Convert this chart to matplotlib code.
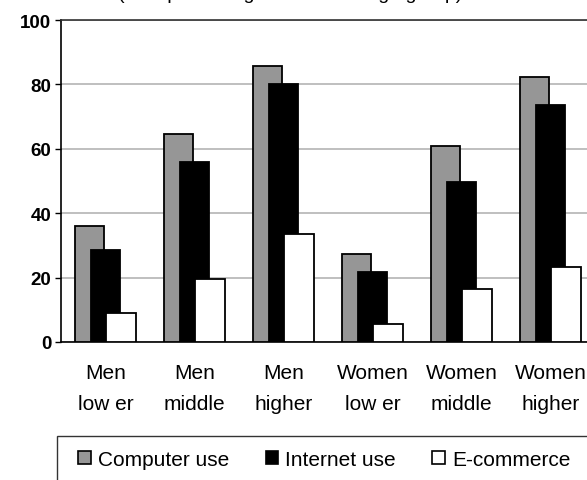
import matplotlib
matplotlib.use("Agg")
import matplotlib.pyplot as plt
from matplotlib.patches import Rectangle, Patch
import numpy as np

plt.rcParams['font.family'] = ['Liberation Sans', 'DejaVu Sans']

categories = ["Men\nlow er", "Men\nmiddle", "Men\nhigher",
              "Women\nlow er", "Women\nmiddle", "Women\nhigher"]
series_names = ["Computer use", "Internet use", "E-commerce"]
computer_use = [36.1, 64.6, 85.6, 27.2, 60.8, 82.3]
internet_use = [28.6, 55.8, 80.0, 21.6, 49.6, 73.6]
e_commerce = [8.9, 19.6, 33.5, 5.6, 16.5, 23.4]
yticks = [0, 20, 40, 60, 80, 100]

W, H = 587, 481
fig = plt.figure(figsize=(W / 100, H / 100), dpi=100)
ax = fig.add_axes([61 / W, 138 / H, 534 / W, 322 / H])

x = np.arange(len(categories))
fills = ["#969696", "#000000", "#ffffff"]
offsets = [-0.18, 0.0, 0.175]
bw = 0.33
for vals, fc, off in zip([computer_use, internet_use, e_commerce], fills, offsets):
    ax.bar(x + off, vals, width=bw, color=fc, edgecolor="black", linewidth=1.3, zorder=3)

ax.set_xlim(-0.5, len(categories) - 0.5)
ax.set_ylim(0, 100)
ax.set_yticks(yticks)
ax.set_yticklabels([str(v) for v in yticks], fontsize=13.5, fontweight="bold")
ax.set_xticks(x)
ax.set_xticklabels(categories, fontsize=15, linespacing=1.8)
ax.tick_params(axis="x", length=0, pad=15)
ax.tick_params(axis="y", length=4, width=1, pad=3, direction="out")
ax.yaxis.grid(True, color="#b4b4b4", linewidth=1.2, zorder=0)
ax.set_axisbelow(True)
for s in ["left", "bottom"]:
    ax.spines[s].set_linewidth(1.2)
    ax.spines[s].set_color("black")
ax.spines["top"].set_color("#333333")
ax.spines["top"].set_linewidth(1.2)
ax.spines["right"].set_visible(False)

# heading line, mostly above the top edge
fig.text(290 / W, 1 + 1 / H, "(as a percentage of the total age group)",
         ha="center", va="baseline", fontsize=14)

# legend box running off the lower right
fig.patches.append(Rectangle((57 / W, -0.1), 0.95, (481 - 437) / H + 0.1,
                             transform=fig.transFigure, facecolor="white",
                             edgecolor="#333333", linewidth=1.0, zorder=1))
handles = [Patch(facecolor=fc, edgecolor="black", linewidth=1.2) for fc in fills]
fig.legend(handles, series_names, ncol=3, loc="center left",
           bbox_to_anchor=(78 / W, 1 - 460 / H), frameon=False, fontsize=15,
           handlelength=0.6, handleheight=0.6, handletextpad=0.35,
           columnspacing=1.75, borderpad=0, borderaxespad=0)

fig.savefig("out.png", dpi=100)
